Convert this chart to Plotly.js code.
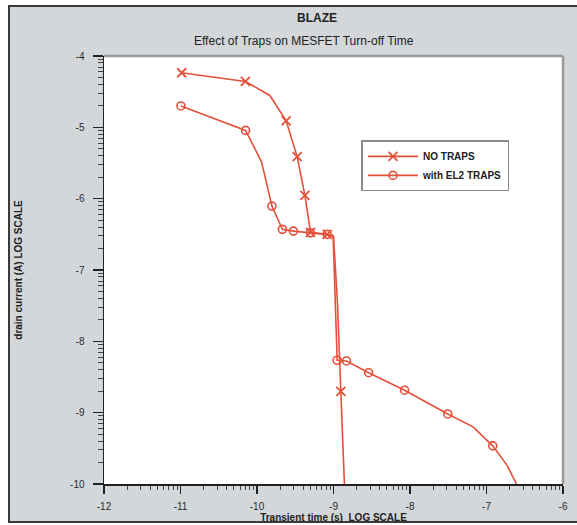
<!DOCTYPE html>
<html>
<head>
<meta charset="utf-8">
<script src="https://cdn.plot.ly/plotly-3.0.1.min.js"></script>
<style>
  html, body { margin: 0; padding: 0; background: #ffffff; width: 577px; height: 525px; overflow: hidden; }
  #frame { position: absolute; left: 8px; top: 5px; width: 569px; height: 518px;
           background: #d3d7da; border-left: 2px solid #3a3a3a; border-top: 2px solid #3a3a3a; border-bottom: 2px solid #3a3a3a; box-sizing: border-box; }
  #chart { position: absolute; left: 0; top: 0; width: 577px; height: 525px; }
</style>
</head>
<body>
<div id="frame"></div>
<div id="chart"></div>
<script>
// ---- data (log10 values) ----
var noTrapsX = [-10.985, -10.152, -9.832, -9.619, -9.475, -9.374, -9.300, -9.083, -9.000, -8.950, -8.904, -8.852];
var noTrapsY = [-4.235, -4.357, -4.553, -4.908, -5.410, -5.954, -6.472, -6.500, -6.530, -7.420, -8.700, -10.150];
var noTrapsMarked = [1, 1, 0, 1, 1, 1, 1, 1, 0, 0, 1, 0];

var el2X = [-10.994, -10.149, -9.940, -9.805, -9.668, -9.524, -9.302, -9.083, -9.005, -8.952, -8.830, -8.541, -8.071, -7.506, -7.176, -6.918, -6.733, -6.560];
var el2Y = [-4.700, -5.043, -5.487, -6.104, -6.430, -6.455, -6.479, -6.500, -6.515, -8.265, -8.275, -8.440, -8.685, -9.018, -9.199, -9.465, -9.735, -10.100];
var el2Marked = [1, 1, 0, 1, 1, 1, 1, 1, 0, 1, 1, 1, 1, 1, 0, 1, 0, 0];

var seriesNames = ['NO TRAPS', 'with EL2 TRAPS'];
var xTickVals = [-12, -11, -10, -9, -8, -7, -6];
var yTickVals = [-10, -9, -8, -7, -6, -5, -4];
var chartTitle = 'BLAZE';
var chartSubtitle = 'Effect of Traps on MESFET Turn-off Time';
var xTitle = 'Transient time (s)  LOG SCALE';
var yTitle = 'drain current (A) LOG SCALE';

// ---- helpers ----
function minorTicks(vals) {
  var out = [];
  for (var i = 0; i < vals.length - 1; i++) {
    for (var k = 2; k <= 9; k++) out.push(vals[i] + Math.log10(k));
  }
  return out;
}
var RED = '#e4503a';
var CLEAR = 'rgba(0,0,0,0)';
var FONT = '"Liberation Sans", Arial, sans-serif';
function markColors(flags) { return flags.map(function (m) { return m ? RED : CLEAR; }); }

var traces = [
  {
    x: noTrapsX, y: noTrapsY, name: seriesNames[0], type: 'scatter', mode: 'lines+markers',
    line: { color: RED, width: 1.6 },
    marker: { symbol: 'x-thin-open', color: markColors(noTrapsMarked), size: 9, line: { width: 1.8 } }
  },
  {
    x: el2X, y: el2Y, name: seriesNames[1], type: 'scatter', mode: 'lines+markers',
    line: { color: RED, width: 1.6 },
    marker: { symbol: 'circle-open', color: markColors(el2Marked), size: 8, line: { width: 1.6 } }
  }
];

var axisCommon = {
  showgrid: false, zeroline: false, showline: true, linecolor: '#222', linewidth: 1.5,
  ticks: 'outside', tickcolor: '#222', tickwidth: 1.5, tickmode: 'array',
  tickfont: { family: FONT, size: 10, color: '#2a2a2a' }
};

var layout = {
  width: 577, height: 525,
  paper_bgcolor: 'rgba(0,0,0,0)', plot_bgcolor: '#ffffff',
  margin: { l: 104, r: 13.7, t: 55.5, b: 41, pad: 0 },
  showlegend: true,
  xaxis: Object.assign({}, axisCommon, {
    range: [-12, -6], tickvals: xTickVals, ticktext: xTickVals.map(String), ticklen: 8, ticklabelstandoff: 4,
    minor: { tickmode: 'array', tickvals: minorTicks(xTickVals), ticks: 'outside', ticklen: 4, tickcolor: '#444', tickwidth: 1 },
    title: { text: xTitle, standoff: 2, font: { family: FONT, size: 10, color: '#222', weight: 'bold' } }
  }),
  yaxis: Object.assign({}, axisCommon, {
    range: [-10, -4], tickvals: yTickVals, ticktext: yTickVals.map(String), ticklen: 10, ticklabelstandoff: 6,
    minor: { tickmode: 'array', tickvals: minorTicks(yTickVals), ticks: 'outside', ticklen: 5, tickcolor: '#444', tickwidth: 1 },
    title: { text: yTitle, standoff: 45, font: { family: FONT, size: 10, color: '#222', weight: 'bold' } }
  }),
  legend: {
    x: 0.561, y: 0.8028, xanchor: 'left', yanchor: 'top',
    bgcolor: '#ffffff', bordercolor: '#8a8a8a', borderwidth: 1.5,
    itemwidth: 50, entrywidth: 160, tracegroupgap: 0,
    font: { family: FONT, size: 10, color: '#222', weight: 'bold' }
  },
  shapes: [
    { type: 'line', xref: 'paper', yref: 'paper', x0: 0, x1: 1, y0: 1, y1: 1, line: { color: '#9a9a9a', width: 2.5 } },
    { type: 'line', xref: 'paper', yref: 'paper', x0: 1, x1: 1, y0: 0, y1: 1, line: { color: '#9a9a9a', width: 2.5 } }
  ],
  annotations: [
    { text: chartTitle, xref: 'paper', yref: 'paper', x: 0.4637, y: 1.0898, xanchor: 'center', yanchor: 'middle',
      showarrow: false, font: { family: FONT, size: 12, color: '#222', weight: 'bold' } },
    { text: chartSubtitle, xref: 'paper', yref: 'paper', x: 0.4354, y: 1.0362, xanchor: 'center', yanchor: 'middle',
      showarrow: false, font: { family: FONT, size: 12, color: '#222' } }
  ]
};

Plotly.newPlot('chart', traces, layout, { displayModeBar: false, staticPlot: true });
</script>
</body>
</html>
